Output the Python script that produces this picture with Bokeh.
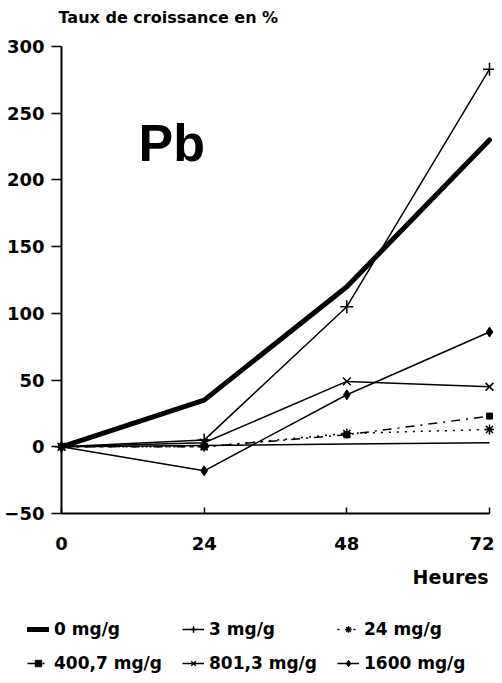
from bokeh.plotting import figure
from bokeh.models import Legend, LegendItem, Label, FixedTicker, Range1d
from bokeh.embed import file_html
from bokeh.resources import INLINE

hours = [0, 24, 48, 72]
s0 = [0, 35, 120, 230]
s3 = [0, 5, 105, 283]
s24 = [0, 0, 10, 13]
s400 = [0, 0, 9, 23]
s801 = [0, 3, 49, 45]
s1600 = [0, -18, 39, 86]
baseline = [0, 1, 2, 3]
y_ticks = [-50, 0, 50, 100, 150, 200, 250, 300]
labels = ["0 mg/g", "3 mg/g", "24 mg/g", "400,7 mg/g", "801,3 mg/g", "1600 mg/g"]

FONT = "DejaVu Sans"
W, H = 494, 675

# plot area in canvas pixels (left, right, top, bottom)
FL, FR, FT, FB = 61, 489, 46, 513
x0, x1 = 0, 72
y0, y1 = -50, 300
kx = (FR - FL) / (x1 - x0)
ky = (FB - FT) / (y1 - y0)

p = figure(width=W, height=H, output_backend="svg", toolbar_location=None,
           x_range=Range1d(x0 - FL / kx, x1 + (W - FR) / kx),
           y_range=Range1d(y0 - (H - FB) / ky, y1 + FT / ky),
           min_border=0, min_border_left=0, min_border_right=0,
           min_border_top=0, min_border_bottom=0)
p.outline_line_color = None
p.xgrid.visible = False
p.ygrid.visible = False

for ax in (p.xaxis[0], p.yaxis[0]):
    ax.axis_line_color = "black"
    ax.axis_line_width = 2
    ax.major_tick_line_color = "black"
    ax.major_tick_line_width = 1.5
    ax.minor_tick_line_color = None
    ax.major_label_text_font = FONT
    ax.major_label_text_font_style = "bold"
    ax.major_label_text_font_size = "18px"
    ax.major_label_text_color = "black"
p.xaxis.fixed_location = y0
p.xaxis.bounds = (x0, x1)
p.yaxis.fixed_location = x0
p.yaxis.bounds = (y0, y1)
p.xaxis.ticker = FixedTicker(ticks=hours)
p.yaxis.ticker = FixedTicker(ticks=y_ticks)
p.xaxis.major_tick_out = 0
p.xaxis.major_tick_in = 6
p.xaxis.major_label_standoff = 23
p.yaxis.major_tick_out = 10
p.yaxis.major_tick_in = 0
p.yaxis.major_label_standoff = 7

styles = [
    dict(line=dict(line_width=5, line_cap="round", line_join="round"), marker=None),
    dict(line=dict(line_width=1.5), marker=dict(marker="cross", size=13, line_width=1.5)),
    dict(line=dict(line_width=1.5, line_dash="2 6"), marker=dict(marker="asterisk", size=10, line_width=1.5)),
    dict(line=dict(line_width=1.5, line_dash="9 6 2 6"), marker=dict(marker="square", size=6, fill_color="black")),
    dict(line=dict(line_width=1.5), marker=dict(marker="x", size=11, line_width=1.5)),
    dict(line=dict(line_width=1.5), marker=dict(marker="diamond", size=10, fill_color="black")),
]
series = [s0, s3, s24, s400, s801, s1600]

p.line(hours, baseline, line_color="black", line_width=1.5)
items = []
for lab, vals, st in zip(labels, series, styles):
    rs = [p.line(hours, vals, line_color="black", **st["line"])]
    if st["marker"]:
        rs.append(p.scatter(hours, vals, line_color="black", **st["marker"]))
    items.append(LegendItem(label=lab, renderers=rs))

legend = Legend(items=items, orientation="horizontal", ncols=3,
                location=(27, 2), padding=0, margin=0,
                spacing=14, glyph_width=22, glyph_height=16,
                label_width=114, label_height=16, label_standoff=5,
                label_text_font=FONT, label_text_font_style="bold",
                label_text_font_size="17px", label_text_baseline="middle",
                label_text_color="black",
                border_line_color=None, background_fill_alpha=0)
p.add_layout(legend, "center")

p.add_layout(Label(x=58, y=658, x_units="screen", y_units="screen",
                   text="Taux de croissance en %", text_font=FONT, text_font_style="bold",
                   text_font_size="16px", text_baseline="alphabetic", text_color="black"))
p.add_layout(Label(x=138, y=533, x_units="screen", y_units="screen",
                   text="Pb", text_font="Liberation Sans", text_font_style="bold",
                   text_font_size="52px", text_baseline="alphabetic", text_color="black"))
p.add_layout(Label(x=488, y=99, x_units="screen", y_units="screen",
                   text="Heures", text_font=FONT, text_font_style="bold",
                   text_font_size="19px", text_align="right", text_baseline="alphabetic",
                   text_color="black"))

open("out.html", "w").write(file_html(p, INLINE))
